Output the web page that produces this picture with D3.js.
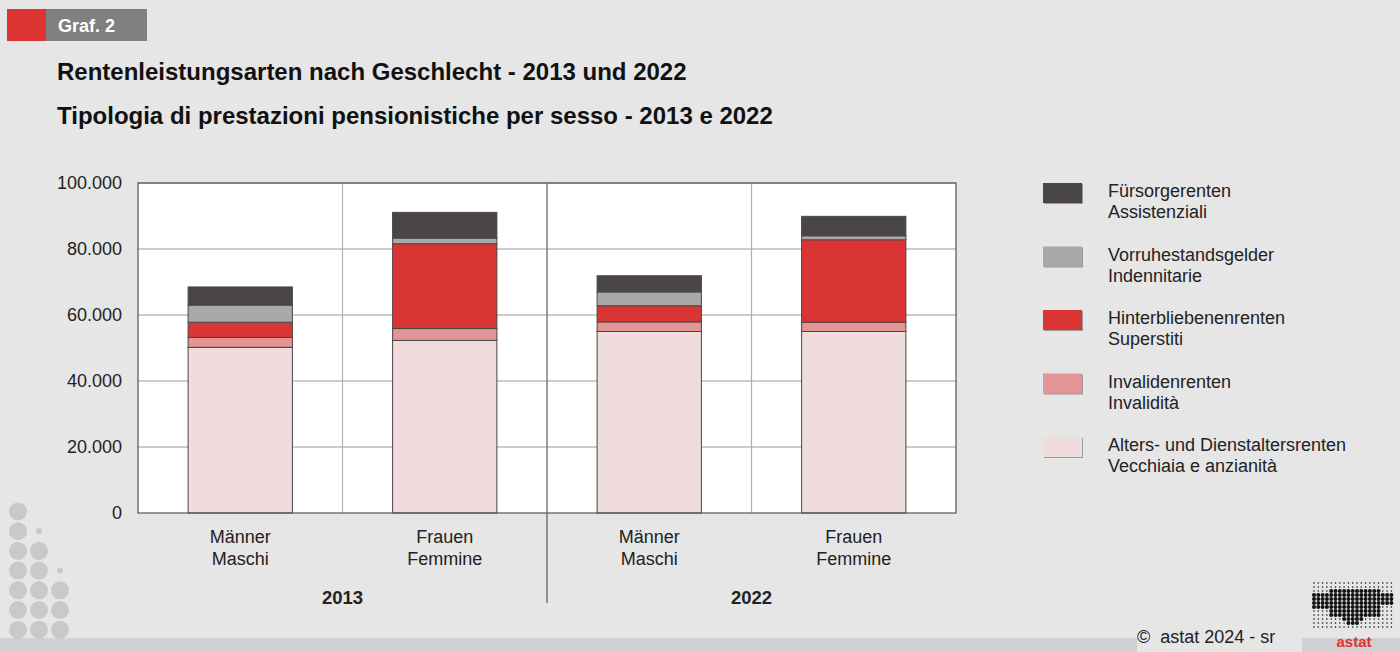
<!DOCTYPE html>
<html>
<head>
<meta charset="utf-8">
<script src="https://cdn.jsdelivr.net/npm/d3@7"></script>
<style>
  body { margin: 0; background: #e6e6e6; }
  svg { display: block; font-family: "Liberation Sans", Arial, sans-serif; }
</style>
</head>
<body>
<svg id="chart" width="1400" height="652"></svg>
<script>
// categories (bars) and their year groups
const categories = ["M2013", "F2013", "M2022", "F2022"];
const catLines = [["Männer", "Maschi"], ["Frauen", "Femmine"], ["Männer", "Maschi"], ["Frauen", "Femmine"]];
const years = ["2013", "2022"];

// series, bottom to top
const seriesKeys = ["alters", "invalid", "hinter", "vorruhe", "fuersorge"];
const seriesDe = ["Alters- und Dienstaltersrenten", "Invalidenrenten", "Hinterbliebenenrenten", "Vorruhestandsgelder", "Fürsorgerenten"];
const seriesIt = ["Vecchiaia e anzianità", "Invalidità", "Superstiti", "Indennitarie", "Assistenziali"];
const seriesColors = ["#f0dcdc", "#e39494", "#d93535", "#a9a9a9", "#4a4646"];

// values per bar (M2013, F2013, M2022, F2022)
const alters    = [50200, 52300, 55000, 55000];
const invalid   = [3000, 3600, 2900, 2800];
const hinter    = [4600, 25700, 4900, 25000];
const vorruhe   = [5200, 1700, 4200, 1200];
const fuersorge = [5500, 7800, 4900, 5900];

const yTicks = [0, 20000, 40000, 60000, 80000, 100000];

const rows = categories.map((c, i) => ({
  cat: c, alters: alters[i], invalid: invalid[i], hinter: hinter[i],
  vorruhe: vorruhe[i], fuersorge: fuersorge[i]
}));

const svg = d3.select("#chart");
const fmt = d3.formatLocale({ decimal: ",", thousands: ".", grouping: [3], currency: ["", "€"] }).format(",d");

const plot = { left: 138, right: 956, top: 183, bottom: 513 };

const x = d3.scaleBand().domain(categories).range([plot.left, plot.right])
  .paddingInner(0.49).paddingOuter(0.245);
const y = d3.scaleLinear().domain([0, 100000]).range([plot.bottom, plot.top]);

// bottom band
svg.append("rect").attr("x", 0).attr("y", 638).attr("width", 1400).attr("height", 14).attr("fill", "#d0d0d0");
svg.append("rect").attr("x", 1137).attr("y", 628).attr("width", 165).attr("height", 24).attr("fill", "#e6e6e6");

// header badge
svg.append("rect").attr("x", 7).attr("y", 9).attr("width", 39).attr("height", 32).attr("fill", "#dd3333");
svg.append("rect").attr("x", 46).attr("y", 9).attr("width", 101).attr("height", 32).attr("fill", "#808080");
svg.append("text").attr("x", 58).attr("y", 32).attr("fill", "#fff").attr("font-weight", "bold")
  .attr("font-size", 18).text("Graf. 2");

// titles
svg.append("text").attr("x", 57).attr("y", 80).attr("font-size", 24).attr("font-weight", "bold")
  .attr("fill", "#111").text("Rentenleistungsarten nach Geschlecht - 2013 und 2022");
svg.append("text").attr("x", 57).attr("y", 124).attr("font-size", 24).attr("font-weight", "bold")
  .attr("fill", "#111").text("Tipologia di prestazioni pensionistiche per sesso - 2013 e 2022");

// plot background
svg.append("rect").attr("x", plot.left).attr("y", plot.top)
  .attr("width", plot.right - plot.left).attr("height", plot.bottom - plot.top).attr("fill", "#fff");

// horizontal grid
svg.append("g").selectAll("line").data(yTicks.slice(1)).join("line")
  .attr("x1", plot.left).attr("x2", plot.right)
  .attr("y1", d => y(d)).attr("y2", d => y(d))
  .attr("stroke", "#9a9a9a").attr("stroke-width", 1);

// vertical grid between categories
const step = x.step();
svg.append("g").selectAll("line").data([1, 3]).join("line")
  .attr("x1", i => plot.left + i * step).attr("x2", i => plot.left + i * step)
  .attr("y1", plot.top).attr("y2", plot.bottom)
  .attr("stroke", "#b0b0b0").attr("stroke-width", 1.2);

// stacked bars
const stack = d3.stack().keys(seriesKeys)(rows);
svg.append("g").selectAll("g").data(stack).join("g")
  .attr("fill", (d, i) => seriesColors[i])
  .selectAll("rect").data(d => d).join("rect")
  .attr("x", d => x(d.data.cat))
  .attr("width", x.bandwidth())
  .attr("y", d => y(d[1]))
  .attr("height", d => y(d[0]) - y(d[1]))
  .attr("stroke", "#4d4545").attr("stroke-width", 1);

// plot border
svg.append("rect").attr("x", plot.left).attr("y", plot.top)
  .attr("width", plot.right - plot.left).attr("height", plot.bottom - plot.top)
  .attr("fill", "none").attr("stroke", "#555").attr("stroke-width", 1.2);

// year separator
svg.append("line").attr("x1", plot.left + 2 * step).attr("x2", plot.left + 2 * step)
  .attr("y1", plot.top).attr("y2", 603).attr("stroke", "#666").attr("stroke-width", 1.3);

// y axis labels
const yAxis = d3.axisLeft(y).tickValues(yTicks).tickFormat(fmt).tickSize(0).tickPadding(16);
const yg = svg.append("g").attr("transform", `translate(${plot.left},0)`).call(yAxis);
yg.select(".domain").remove();
yg.selectAll("text").attr("font-size", 18).attr("fill", "#222").attr("font-family", "Liberation Sans, Arial, sans-serif");

// category labels
const catG = svg.append("g").selectAll("text").data(categories).join("text")
  .attr("x", d => x(d) + x.bandwidth() / 2)
  .attr("text-anchor", "middle").attr("font-size", 18).attr("fill", "#222");
catG.append("tspan").attr("x", d => x(d) + x.bandwidth() / 2).attr("y", 543).text((d, i) => catLines[i][0]);
catG.append("tspan").attr("x", d => x(d) + x.bandwidth() / 2).attr("y", 565).text((d, i) => catLines[i][1]);

// year labels
svg.append("g").selectAll("text").data(years).join("text")
  .attr("x", (d, i) => plot.left + (2 * i + 1) * step)
  .attr("y", 604).attr("text-anchor", "middle").attr("font-size", 18.5).attr("font-weight", "bold")
  .attr("fill", "#222").text(d => d);

// legend (top to bottom: reversed stack order)
const legendOrder = d3.range(seriesKeys.length).reverse();
const lg = svg.append("g").selectAll("g").data(legendOrder).join("g")
  .attr("transform", (d, i) => `translate(1043,${183 + i * 63.5})`);
lg.append("rect").attr("x", 1).attr("y", 1).attr("width", 39).attr("height", 20).attr("fill", "#9a9a9a");
lg.append("rect").attr("width", 39).attr("height", 20).attr("fill", d => seriesColors[d]);
lg.append("text").attr("x", 65).attr("y", 14).attr("font-size", 18).attr("fill", "#222").text(d => seriesDe[d]);
lg.append("text").attr("x", 65).attr("y", 35).attr("font-size", 18).attr("fill", "#222").text(d => seriesIt[d]);

// decorative dots bottom-left
const dots = [];
for (let r = 0; r < 7; r++) dots.push([18, r, 9]);
dots.push([39, 1, 3]);
for (let r = 2; r < 7; r++) dots.push([39, r, 9]);
dots.push([60, 3, 3]);
for (let r = 4; r < 7; r++) dots.push([60, r, 9]);
svg.append("g").selectAll("circle").data(dots).join("circle")
  .attr("cx", d => d[0]).attr("cy", d => 511.5 + d[1] * 19.7).attr("r", d => d[2]).attr("fill", "#c9c9c9");

// copyright
svg.append("text").attr("x", 1137).attr("y", 643).attr("font-size", 18).attr("fill", "#222")
  .attr("xml:space", "preserve").text("©  astat 2024 - sr");

// astat logo (dot matrix)
const logo = svg.append("g");
const logoDots = [];
for (let gx = 0; gx < 19; gx++) {
  for (let gy = 0; gy < 12; gy++) {
    const px = 1314 + gx * 4.3, py = 583 + gy * 4;
    const dense = (gy >= 2 && gy <= 8 && gx >= 4 && gx <= 15) || (gy >= 3 && gy <= 6 && gx <= 3) ||
      (gy >= 3 && gy <= 5 && gx >= 16) || (gy === 9 && gx >= 7 && gx <= 11) || (gy === 10 && gx >= 8 && gx <= 10);
    logoDots.push({ px, py, r: dense ? 2 : 0.8 });
  }
}
logo.selectAll("circle").data(logoDots).join("circle")
  .attr("cx", d => d.px).attr("cy", d => d.py).attr("r", d => d.r).attr("fill", "#111");
logo.append("text").attr("x", 1354).attr("y", 647).attr("text-anchor", "middle").attr("font-size", 15)
  .attr("font-weight", "bold").attr("fill", "#dd3333").text("astat");
</script>
</body>
</html>
